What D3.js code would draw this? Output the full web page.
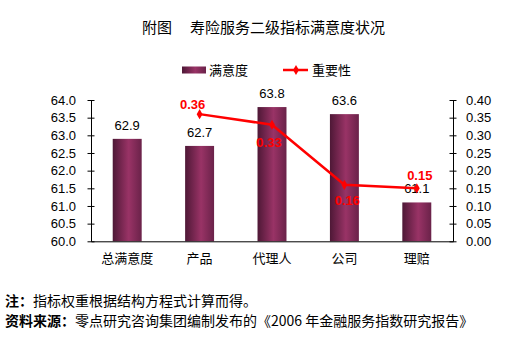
<!DOCTYPE html>
<html><head><meta charset="utf-8">
<script src="https://cdn.jsdelivr.net/npm/d3@7/dist/d3.min.js"></script>
<style>
body{margin:0;background:#fff;}
svg{display:block;}
text{font-family:"Liberation Sans",Arial,sans-serif;}
.cjk{font-family:"Noto Sans CJK SC","Liberation Sans",sans-serif;}
</style></head>
<body><svg id="c" width="514" height="344"></svg>
<script>
const titlePrefix = "附图";
const title = "寿险服务二级指标满意度状况";
const categories = ["总满意度","产品","代理人","公司","理赔"];
const satisfaction = [62.9, 62.7, 63.8, 63.6, 61.1];
const importanceCats = ["产品","代理人","公司","理赔"];
const importance = [0.36, 0.33, 0.16, 0.15];
const leftTicks = [60.0,60.5,61.0,61.5,62.0,62.5,63.0,63.5,64.0];
const rightTicks = [0,0.05,0.10,0.15,0.20,0.25,0.30,0.35,0.40];
const seriesNames = ["满意度","重要性"];
const noteLabel = "注：", noteText = "指标权重根据结构方程式计算而得。";
const srcLabel = "资料来源：", srcText = "零点研究咨询集团编制发布的《2006 年金融服务指数研究报告》";

const svg = d3.select("#c");
const L = 91, R = 453, T = 100, B = 241.3;
const x = d3.scaleBand().domain(categories).range([L, R]).paddingInner(0.6).paddingOuter(0.3);
const yL = d3.scaleLinear().domain([60, 64]).range([B, T]);
const yR = d3.scaleLinear().domain([0, 0.4]).range([B, T]);

const defs = svg.append("defs");
const g = defs.append("linearGradient").attr("id","bar").attr("x1","0").attr("x2","1").attr("y1","0").attr("y2","0");
g.append("stop").attr("offset","0%").attr("stop-color","#4e1836");
g.append("stop").attr("offset","55%").attr("stop-color","#993366");
g.append("stop").attr("offset","100%").attr("stop-color","#6a2249");

// title
svg.append("text").attr("class","cjk").attr("x",142).attr("y",33).attr("font-size",15).attr("fill","#000").text(titlePrefix);
svg.append("text").attr("class","cjk").attr("x",190).attr("y",33).attr("font-size",15).attr("fill","#000").text(title);

// legend
svg.append("rect").attr("x",182).attr("y",66.5).attr("width",24).attr("height",7).attr("fill","url(#bar)");
svg.append("text").attr("class","cjk").attr("x",209).attr("y",75).attr("font-size",13).text(seriesNames[0]);
svg.append("line").attr("x1",283).attr("x2",308).attr("y1",70).attr("y2",70).attr("stroke","#ff0000").attr("stroke-width",2.5);
svg.append("path").attr("d",d3.symbol(d3.symbolDiamond,30)()).attr("transform","translate(296,70)").attr("fill","#ff0000");
svg.append("text").attr("class","cjk").attr("x",312).attr("y",75).attr("font-size",13).text(seriesNames[1]);

// bars
svg.selectAll("rect.b").data(satisfaction).join("rect").attr("class","b")
  .attr("x",(d,i)=>x(categories[i])).attr("width",x.bandwidth())
  .attr("y",d=>yL(d)).attr("height",d=>B-yL(d)).attr("fill","url(#bar)");
svg.selectAll("text.bv").data(satisfaction).join("text").attr("class","bv")
  .attr("x",(d,i)=>x(categories[i])+x.bandwidth()/2).attr("y",d=>yL(d)-9)
  .attr("text-anchor","middle").attr("font-size",13).attr("fill","#000").text(d=>d.toFixed(1));

// axes
const axL = svg.append("g").attr("transform",`translate(${L},0)`)
  .call(d3.axisLeft(yL).tickValues(leftTicks).tickFormat(d3.format(".1f")).tickSizeInner(4).tickSizeOuter(0).tickPadding(11));
const axR = svg.append("g").attr("transform",`translate(${R},0)`)
  .call(d3.axisRight(yR).tickValues(rightTicks).tickFormat(d3.format(".2f")).tickSizeInner(4).tickSizeOuter(0).tickPadding(9));
[axL, axR].forEach(a=>{
  a.selectAll(".tick line").attr("x1",-3.5).attr("x2",3.5).attr("stroke","#000");
  a.selectAll("text").attr("font-size",13).attr("fill","#000").attr("font-family","Liberation Sans, Arial, sans-serif");
  a.select(".domain").attr("stroke","#000");
});
const axB = svg.append("g").attr("transform",`translate(0,${B})`)
  .call(d3.axisBottom(x).tickSize(0).tickPadding(12));
axB.select(".domain").attr("stroke","#000");
axB.selectAll("text").attr("class","cjk").attr("font-size",13).attr("fill","#000").attr("font-family","Noto Sans CJK SC, sans-serif");

// line
const cx = c => x(c) + x.bandwidth()/2;
const line = d3.line().x((d,i)=>cx(importanceCats[i])).y(d=>yR(d));
svg.append("path").datum(importance).attr("d",line).attr("fill","none").attr("stroke","#ff0000").attr("stroke-width",2.5);
svg.selectAll("path.pt").data(importance).join("path").attr("class","pt")
  .attr("d",d3.symbol(d3.symbolDiamond,30)()).attr("fill","#ff0000")
  .attr("transform",(d,i)=>`translate(${cx(importanceCats[i])},${yR(d)})`);
const labelDx = [-7, -3, 3, 3];
const labelDy = [-5, 22, 20, -8];
svg.selectAll("text.lv").data(importance).join("text").attr("class","lv")
  .attr("x",(d,i)=>cx(importanceCats[i])+labelDx[i]).attr("y",(d,i)=>yR(d)+labelDy[i])
  .attr("text-anchor","middle").attr("font-size",13).attr("font-weight","bold").attr("fill","#ff0000")
  .attr("font-family",(d,i)=>i===0?"Liberation Serif, serif":"Liberation Sans, Arial, sans-serif")
  .text(d=>d.toFixed(2));

// notes
const n1 = svg.append("text").attr("class","cjk").attr("x",5).attr("y",306).attr("font-size",14);
n1.append("tspan").attr("font-weight","bold").text(noteLabel);
n1.append("tspan").text(noteText);
const n2 = svg.append("text").attr("class","cjk").attr("x",5).attr("y",326).attr("font-size",14);
n2.append("tspan").attr("font-weight","bold").text(srcLabel);
n2.append("tspan").text(srcText);
</script></body></html>
